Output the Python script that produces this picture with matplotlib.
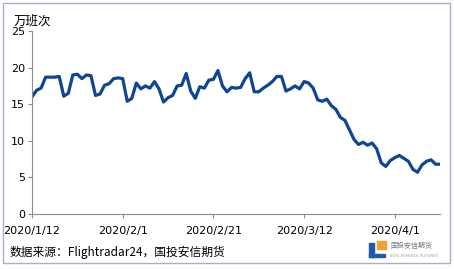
import numpy as np
import pandas as pd
import matplotlib
matplotlib.use('Agg')
import matplotlib.pyplot as plt
import matplotlib.dates as mdates
from matplotlib.patches import Rectangle

plt.rcParams['font.family'] = ['DejaVu Sans', 'Noto Sans CJK SC']

# daily flights (10k), 2020/1/12 onwards
flights = [16.0, 16.9, 17.2, 18.7, 18.7, 18.7, 18.8, 16.1, 16.5, 19.0,
           19.1, 18.5, 19.0, 18.9, 16.2, 16.4, 17.6, 17.8, 18.5, 18.6,
           18.5, 15.4, 15.8, 17.9, 17.1, 17.5, 17.2, 18.1, 17.1, 15.3,
           15.9, 16.2, 17.5, 17.6, 19.2, 16.8, 15.8, 17.4, 17.2, 18.3,
           18.4, 19.6, 17.5, 16.7, 17.3, 17.2, 17.3, 18.5, 19.3, 16.7,
           16.7, 17.2, 17.6, 18.1, 18.8, 18.8, 16.8, 17.1, 17.5, 17.1,
           18.1, 17.9, 17.2, 15.6, 15.4, 15.7, 14.8, 14.3, 13.2, 12.8,
           11.5, 10.2, 9.5, 9.8, 9.4, 9.7, 8.9, 7.0, 6.5, 7.3,
           7.7, 8.0, 7.6, 7.2, 6.1, 5.7, 6.7, 7.2, 7.4, 6.8, 6.8]
dates = pd.date_range('2020-01-12', periods=len(flights), freq='D')
tickDates = pd.to_datetime(['2020-01-12', '2020-02-01', '2020-02-21', '2020-03-12', '2020-04-01'])
tickLabels = ['2020/1/12', '2020/2/1', '2020/2/21', '2020/3/12', '2020/4/1']
yTicks = [0, 5, 10, 15, 20, 25]

fig = plt.figure(figsize=(4.54, 2.69), dpi=100)
ax = fig.add_axes([0.0705, 0.2045, 0.899, 0.680])

ax.plot(dates, flights, color='#0E4596', linewidth=2.3, solid_joinstyle='round')

ax.set_xlim(dates[0], dates[-1])
ax.set_ylim(0, 25)
ax.set_yticks(yTicks)
ax.set_xticks(tickDates)
ax.set_xticklabels(tickLabels)

for s in ['top', 'right']:
    ax.spines[s].set_visible(False)
for s in ['left', 'bottom']:
    ax.spines[s].set_color('#8C8C8C')
    ax.spines[s].set_linewidth(0.8)
ax.tick_params(axis='both', colors='#8C8C8C', length=3, width=0.8, labelsize=8, labelcolor='black')
ax.tick_params(axis='x', pad=6)
ax.tick_params(axis='y', pad=2)

cjk = ['Noto Sans CJK SC', 'DejaVu Sans']
fig.text(0.03, 0.897, '万班次', family=cjk, fontsize=9, va='bottom', ha='left')
fig.text(0.022, 0.063, '数据来源：Flightradar24，国投安信期货', family=cjk, fontsize=8.5,
         va='center', ha='left')

# logo
fig.patches.append(Rectangle((0.812, 0.045), 0.012, 0.05, transform=fig.transFigure,
                             color='#1D5BA8', zorder=5))
fig.patches.append(Rectangle((0.812, 0.045), 0.035, 0.012, transform=fig.transFigure,
                             color='#1D5BA8', zorder=5))
fig.patches.append(Rectangle((0.83, 0.075), 0.02, 0.03, transform=fig.transFigure,
                             color='#F0A030', zorder=5))
fig.text(0.86, 0.085, '国投安信期货', family=cjk, fontsize=5, color='#777777', va='center')
fig.text(0.86, 0.05, 'SDIC ESSENCE FUTURES', fontsize=2.8, color='#999999', va='center')

# outer frame
fig.patches.append(Rectangle((0.007, 0.022), 0.985, 0.966, transform=fig.transFigure,
                             fill=False, edgecolor='#A8B0C8', linewidth=1.0))

fig.savefig('out.png', dpi=100)
